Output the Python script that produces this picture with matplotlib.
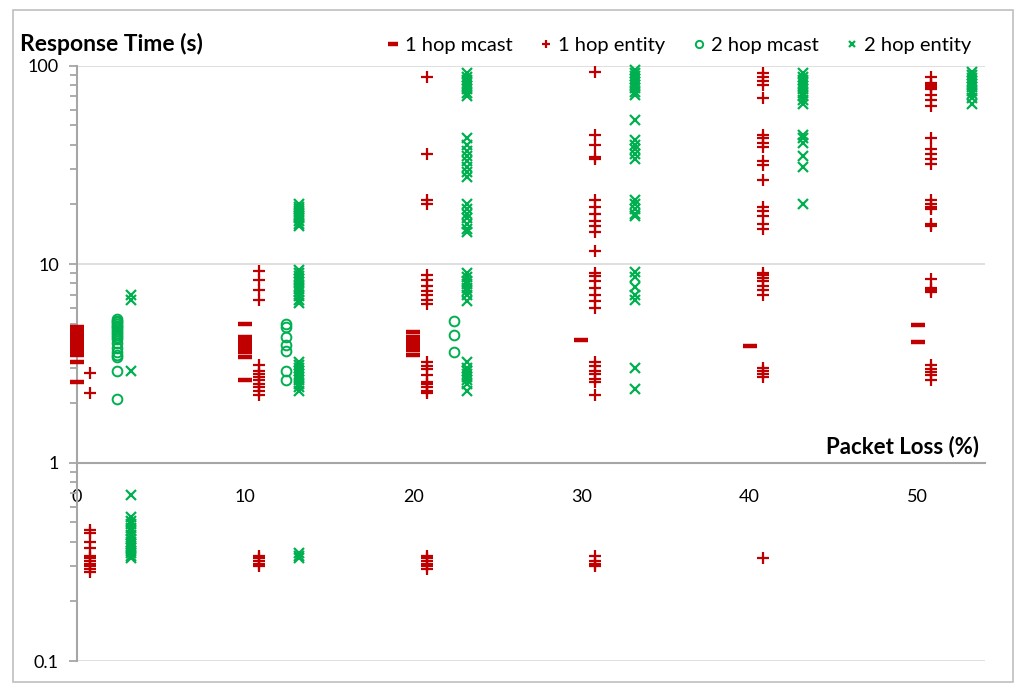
import numpy as np
import matplotlib
matplotlib.use("Agg")
import matplotlib.pyplot as plt
import matplotlib.transforms as mtransforms
from matplotlib.patches import Rectangle

plt.rcParams["font.family"] = ["Lato", "DejaVu Sans"]

# ── Données (temps de réponse en s) ──────────────────────────────────────────
LOSS = [0, 10, 20, 30, 40, 50]          # perte de paquets (%)
OFFSETS = {"1hop_mcast": 0.0, "1hop_entity": 0.8,
           "2hop_mcast": 2.4, "2hop_entity": 3.2}

mcast1_0 = [4.8, 4.7, 4.6, 4.5, 4.4, 4.3, 4.2, 4.1, 4.0, 3.9, 3.8, 3.7, 3.6, 3.5, 3.2, 2.56]
mcast1_10 = [5.0, 4.3, 4.2, 4.1, 4.0, 3.9, 3.8, 3.6, 3.4, 2.6]
mcast1_20 = [4.55, 4.3, 4.2, 4.1, 4.0, 3.9, 3.8, 3.7, 3.5]
mcast1_30 = [4.17]
mcast1_40 = [3.88]
mcast1_50 = [4.95, 4.07]

entity1_0 = [2.84, 2.23,
             0.46, 0.44, 0.40, 0.37, 0.34, 0.33, 0.32, 0.31, 0.30, 0.29, 0.28]
entity1_10 = [9.2, 8.3, 7.4, 6.6,
              3.1, 2.9, 2.8, 2.7, 2.6, 2.5, 2.4, 2.3, 2.2,
              0.34, 0.33, 0.32, 0.31, 0.30]
entity1_20 = [88, 36, 21, 20,
              8.8, 8.3, 7.8, 7.3, 7.0, 6.6, 6.3,
              3.2, 3.05, 2.95, 2.75, 2.55, 2.5, 2.4, 2.3, 2.25,
              0.34, 0.33, 0.32, 0.31, 0.30, 0.29]
entity1_30 = [93, 45, 40, 34.7, 34,
              21, 19.5, 18, 16.5, 15.5, 14.5,
              11.6, 9.0, 8.7, 8.2, 7.6, 7.0, 6.5, 6.0,
              3.2, 3.05, 2.9, 2.8, 2.65, 2.55, 2.2,
              0.34, 0.32, 0.31, 0.30]
entity1_40 = [92, 88, 84, 80, 69,
              45, 43, 41, 39, 33, 31.5, 26.5,
              19.5, 18.5, 17.5, 16, 15,
              9.0, 8.8, 8.5, 8.2, 7.8, 7.4, 7.0,
              3.0, 2.9, 2.8, 2.7,
              0.33]
entity1_50 = [88, 82, 80, 78, 76, 71, 67, 63,
              43, 38, 36, 34, 32,
              21, 20, 19.5, 19, 16, 15.5,
              8.4, 7.6, 7.4, 7.2,
              3.1, 2.95, 2.85, 2.75, 2.6]

mcast2_0 = [5.3, 5.2, 5.1, 5.0, 4.9, 4.8, 4.7, 4.6, 4.5, 4.4, 4.3, 4.2,
            4.0, 3.8, 3.6, 3.5, 3.4, 2.9, 2.1]
mcast2_10 = [5.0, 4.8, 4.3, 3.9, 3.67, 2.9, 2.6]
mcast2_20 = [5.2, 4.4, 3.6]

entity2_0 = [7.0, 6.6, 2.9,
             0.69, 0.53, 0.51, 0.49, 0.47, 0.45, 0.43, 0.41, 0.40, 0.39,
             0.38, 0.37, 0.36, 0.35, 0.34, 0.33]
entity2_10 = [20, 19.5, 19, 18.5, 18, 17.5, 17, 16.5, 16, 15.5,
              9.3, 9.0, 8.7, 8.4, 8.1, 7.8, 7.5, 7.2, 6.9, 6.6, 6.4,
              3.2, 3.1, 3.0, 2.9, 2.8, 2.7, 2.6, 2.5, 2.4, 2.3,
              0.35, 0.34, 0.33]
entity2_20 = [92, 88, 85, 82, 79, 76, 73, 70,
              43, 40, 37, 35, 33, 31, 29, 27.5,
              20, 19, 18, 17, 16, 15, 14.5,
              9.0, 8.6, 8.2, 7.9, 7.6, 7.3, 7.0, 6.5,
              3.2, 3.0, 2.9, 2.8, 2.7, 2.6, 2.5, 2.3]
entity2_30 = [95, 92, 89, 86, 83, 80, 77, 74, 71,
              53, 42, 40, 38, 36, 34,
              21, 20, 19, 18, 17.5,
              9.1, 8.6, 7.7, 7.0, 6.6,
              3.0, 2.35]
entity2_40 = [92, 88, 85, 82, 79, 76, 73, 70, 67, 64,
              45, 43, 41, 35, 31, 20]
entity2_50 = [93, 90, 87, 84, 81, 78, 75, 72, 69, 64]

SERIES = {
    "1hop_mcast": [mcast1_0, mcast1_10, mcast1_20, mcast1_30, mcast1_40, mcast1_50],
    "1hop_entity": [entity1_0, entity1_10, entity1_20, entity1_30, entity1_40, entity1_50],
    "2hop_mcast": [mcast2_0, mcast2_10, mcast2_20, [], [], []],
    "2hop_entity": [entity2_0, entity2_10, entity2_20, entity2_30, entity2_40, entity2_50],
}
LABELS = {"1hop_mcast": "1 hop mcast", "1hop_entity": "1 hop entity",
          "2hop_mcast": "2 hop mcast", "2hop_entity": "2 hop entity"}

RED = "#c00000"
GREEN = "#00b050"
STYLES = {
    "1hop_mcast": dict(marker="_", color=RED, ms=10, mew=3.2),
    "1hop_entity": dict(marker="+", color=RED, ms=8, mew=1.6),
    "2hop_mcast": dict(marker="o", color=GREEN, mfc="none", ms=7, mew=1.4),
    "2hop_entity": dict(marker="x", color=GREEN, ms=6.5, mew=1.6),
}

# ── Figure ───────────────────────────────────────────────────────────────────
fig = plt.figure(figsize=(10.24, 6.89), dpi=100)
fig.patches.append(Rectangle((0.013, 0.01), 0.976, 0.975, transform=fig.transFigure,
                             fill=False, edgecolor="#bfbfbf", lw=1.2))
ax = fig.add_axes([0.0752, 0.0406, 0.8867, 0.864])

handles = []
for key, groups in SERIES.items():
    xs, ys = [], []
    for loss, vals in zip(LOSS, groups):
        xs += [loss + OFFSETS[key]] * len(vals)
        ys += vals
    st = STYLES[key]
    h, = ax.plot(xs, ys, ls="none", marker=st["marker"], color=st["color"],
                 mfc=st.get("mfc", st["color"]), ms=st["ms"], mew=st["mew"],
                 label=LABELS[key], zorder=3, clip_on=False)
    handles.append(h)

ax.set_yscale("log")
ax.set_ylim(0.1, 100)
ax.set_xlim(0, 54)

# grille horizontale
for v in [0.1, 10, 100]:
    ax.axhline(v, color="#d9d9d9", lw=1.2, zorder=1)

for s in ["top", "right"]:
    ax.spines[s].set_visible(False)
ax.spines["left"].set_color("#a6a6a6")
ax.spines["left"].set_linewidth(1.5)
ax.spines["bottom"].set_position(("data", 1))
ax.spines["bottom"].set_color("#a6a6a6")
ax.spines["bottom"].set_linewidth(1.5)

ax.set_yticks([0.1, 1, 10, 100])
ax.set_yticklabels(["0.1", "1", "10", "100"])
ax.tick_params(axis="y", which="major", length=6, width=1.3, color="#a6a6a6",
               labelsize=13, pad=7)
ax.tick_params(axis="y", which="minor", length=5, width=1.3, color="#a6a6a6")
ax.set_xticks(LOSS)
ax.tick_params(axis="x", length=0, labelsize=13, pad=19)

fig.text(0.0195, 0.936, "Response Time (s)", ha="left", va="center",
         fontsize=16.5, fontweight="bold")
trans = mtransforms.blended_transform_factory(ax.transAxes, ax.transData)
ax.text(0.993, 1.06, "Packet Loss (%)", transform=trans, ha="right",
        va="bottom", fontsize=16, fontweight="bold")

fig.legend(handles=handles, loc="center right", bbox_to_anchor=(0.962, 0.934),
           ncol=4, frameon=False, fontsize=14.5, handlelength=0.6,
           handletextpad=0.3, columnspacing=1.35, markerscale=0.75,
           borderpad=0.2)

fig.savefig("out.png", dpi=100)
